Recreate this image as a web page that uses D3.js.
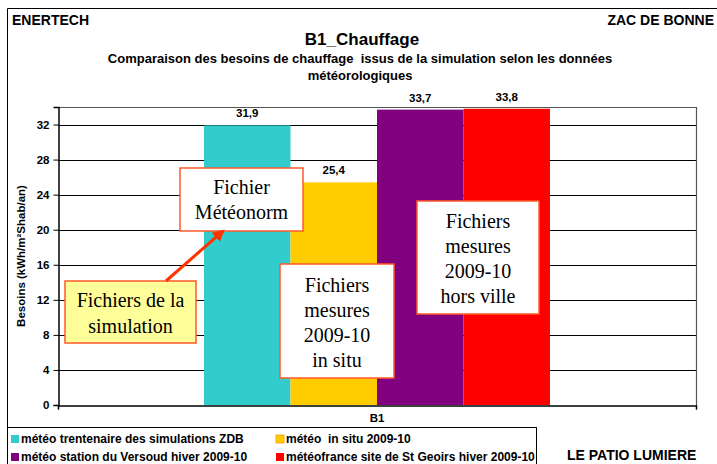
<!DOCTYPE html>
<html><head><meta charset="utf-8">
<script src="https://cdn.jsdelivr.net/npm/d3@7"></script>
<style>
html,body{margin:0;padding:0;background:#fff;}
svg{display:block;font-family:"Liberation Sans",Arial,sans-serif;}
</style></head>
<body><svg id="c" width="717" height="464"></svg>
<script>
const categories = ["B1"];
const seriesNames = ["météo trentenaire des simulations ZDB","météo  in situ 2009-10","météo station du Versoud hiver 2009-10","météofrance site de St Geoirs hiver 2009-10"];
const seriesValues = [31.9, 25.4, 33.7, 33.8];
const seriesLabels = ["31,9","25,4","33,7","33,8"];
const seriesColors = ["#33CCCC","#FFCC00","#800080","#FF0000"];
const yTicks = [0,4,8,12,16,20,24,28,32];
const yMax = 34;

const svg = d3.select("#c");
const L = 58, R = 696, T = 107, B = 405;

// outer frame (left + top)
svg.append("path").attr("d","M7.5,430V8.5H720").attr("fill","none").attr("stroke","#000").attr("stroke-width",1);

// headers
svg.append("text").attr("x",12).attr("y",25).attr("font-size",14).attr("font-weight","bold").text("ENERTECH");
svg.append("text").attr("x",714).attr("y",25).attr("text-anchor","end").attr("font-size",14).attr("font-weight","bold").text("ZAC DE BONNE");
svg.append("text").attr("x",362).attr("y",45).attr("text-anchor","middle").attr("font-size",17).attr("font-weight","bold").text("B1_Chauffage");
svg.append("text").attr("x",360).attr("y",63).attr("text-anchor","middle").attr("font-size",13).attr("font-weight","bold").attr("xml:space","preserve").text("Comparaison des besoins de chauffage  issus de la simulation selon les données");
svg.append("text").attr("x",360).attr("y",80).attr("text-anchor","middle").attr("font-size",13).attr("font-weight","bold").text("météorologiques");

const y = d3.scaleLinear().domain([0,yMax]).range([B,T]);
const x0 = d3.scaleBand().domain(categories).range([L,R]).paddingInner(0).paddingOuter(0.422);
const x1 = d3.scaleBand().domain(d3.range(seriesValues.length)).range([0,x0.bandwidth()]).padding(0);

// gridlines
svg.append("g").selectAll("line").data(yTicks.filter(d=>d>0)).join("line")
  .attr("x1",L).attr("x2",R).attr("y1",d=>Math.round(y(d))+0.5).attr("y2",d=>Math.round(y(d))+0.5)
  .attr("stroke","#000").attr("stroke-width",1);
// plot border (top/right)
svg.append("path").attr("d",`M${L},${T+0.5}H${R+0.5}V${B}`).attr("fill","none").attr("stroke","#555").attr("stroke-width",1.2);

// bars
const g = svg.append("g").attr("transform",`translate(${x0("B1")},0)`);
g.selectAll("rect").data(seriesValues).join("rect")
  .attr("x",(d,i)=>x1(i)).attr("width",x1.bandwidth())
  .attr("y",d=>y(d)).attr("height",d=>B-y(d))
  .attr("fill",(d,i)=>seriesColors[i]);
g.selectAll("text").data(seriesValues).join("text")
  .attr("x",(d,i)=>x1(i)+x1.bandwidth()/2).attr("y",d=>y(d)-8)
  .attr("text-anchor","middle").attr("font-size",11.5).attr("font-weight","bold")
  .text((d,i)=>seriesLabels[i]);

// axes
const ya = svg.append("g").attr("transform",`translate(${L+0.5},0)`)
  .call(d3.axisLeft(y).tickValues(yTicks).tickSize(5).tickPadding(4).tickFormat(d3.format("d")));
ya.select(".domain").attr("stroke","#000").attr("stroke-width",1.5);
ya.selectAll("text").attr("font-size",11.5).attr("font-weight","bold").attr("font-family","Liberation Sans, Arial, sans-serif").attr("fill","#000");
const xa = svg.append("g").attr("transform",`translate(0,${B+0.5})`)
  .call(d3.axisBottom(d3.scaleLinear().domain([0,1]).range([L,R])).tickValues([0,1]).tickSize(4).tickFormat(""));
xa.select(".domain").attr("stroke","#000").attr("stroke-width",1.5);
svg.append("text").attr("x",x0("B1")+x0.bandwidth()/2).attr("y",422).attr("text-anchor","middle")
  .attr("font-size",11.5).attr("font-weight","bold").text(categories[0]);

// y title
svg.append("text").attr("transform","translate(25,256) rotate(-90)").attr("text-anchor","middle")
  .attr("font-size",11.5).attr("font-weight","bold").text("Besoins (kWh/m²Shab/an)");

// annotations
const serif = "Liberation Serif, Times New Roman, serif";
function box(x,yy,w,h,fill,lines,cy,lh){
  svg.append("rect").attr("x",x).attr("y",yy).attr("width",w).attr("height",h)
    .attr("fill",fill).attr("stroke","#FF5A2A").attr("stroke-width",1.5);
  lines.forEach((t,i)=>svg.append("text").attr("x",x+w/2).attr("y",cy+i*lh)
    .attr("text-anchor","middle").attr("font-family",serif).attr("font-size",20).attr("fill","#000").text(t));
}
box(180,168,123,63,"#fff",["Fichier","Météonorm"],194,25);
box(65,281,131,62,"#FFFF99",["Fichiers de la","simulation"],307,26);
box(280,264,114,114,"#fff",["Fichiers","mesures","2009-10","in situ"],292,25);
box(417,201,122,113,"#fff",["Fichiers","mesures","2009-10","hors ville"],228,25);

// arrow
const defs = svg.append("defs");
defs.append("marker").attr("id","ah").attr("viewBox","0 0 10 10").attr("refX",8).attr("refY",5)
  .attr("markerWidth",4).attr("markerHeight",4).attr("orient","auto")
  .append("path").attr("d","M0,0L10,5L0,10z").attr("fill","#FF3300");
svg.append("line").attr("x1",166).attr("y1",281).attr("x2",223).attr("y2",231)
  .attr("stroke","#FF3300").attr("stroke-width",3).attr("marker-end","url(#ah)");

// legend
svg.append("rect").attr("x",7.5).attr("y",427.5).attr("width",529).attr("height",44)
  .attr("fill","#fff").attr("stroke","#000").attr("stroke-width",1);
const legPos = [[11,443],[276,443],[11,461],[276,461]];
seriesNames.forEach((n,i)=>{
  const [lx,ly] = legPos[i];
  svg.append("rect").attr("x",lx).attr("y",ly-8).attr("width",8).attr("height",8).attr("fill",seriesColors[i])
    .attr("stroke",i===1?"#FF9900":"none").attr("stroke-width",0.8);
  svg.append("text").attr("x",lx+10).attr("y",ly).attr("font-size",12).attr("font-weight","bold")
    .attr("xml:space","preserve").text(n);
});
svg.append("text").attr("x",567).attr("y",460).attr("font-size",14).attr("font-weight","bold").text("LE PATIO LUMIERE");
</script></body></html>
